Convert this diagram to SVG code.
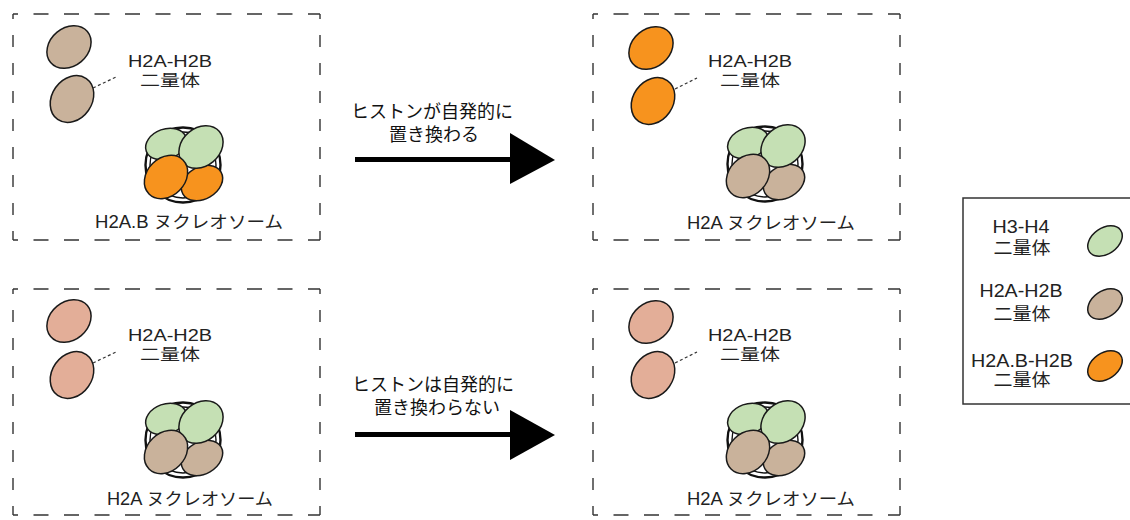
<svg xmlns="http://www.w3.org/2000/svg" xmlns:xlink="http://www.w3.org/1999/xlink" width="1130" height="520" viewBox="0 0 1130 520">
<style>
.bg{fill:#ffffff}
.hd{stroke:#333;stroke-width:1.4;fill:none;stroke-dasharray:15 15.5;stroke-dashoffset:10}
.vd{stroke:#333;stroke-width:1.4;fill:none;stroke-dasharray:12 16;stroke-dashoffset:7}
.e{stroke:#1a1a1a;stroke-width:1.5}
.green{fill:#C5E0B4}
.tan{fill:#C9B29B}
.orange{fill:#F7931E}
.salmon{fill:#E3AE98}
.dna{fill:#ffffff;stroke:#111;stroke-width:2.4}
.dna2{fill:none;stroke:#111;stroke-width:1.4}
.t{font-family:"Liberation Sans","Noto Sans CJK JP",sans-serif;fill:#222;text-anchor:middle}
.at{font-family:"Noto Sans CJK JP",sans-serif;fill:#111;text-anchor:middle;font-size:18px}
.lead{stroke:#333;stroke-width:1.2;stroke-dasharray:3 2.5;fill:none}
.shaft{stroke:#000;stroke-width:5;fill:none}
.head{fill:#000}
</style>
<defs>
<g id="frame">
<line class="hd" x1="13" y1="14" x2="320" y2="14"/>
<line class="hd" x1="13" y1="240" x2="320" y2="240"/>
<line class="vd" x1="13" y1="14" x2="13" y2="240"/>
<line class="vd" x1="320" y1="14" x2="320" y2="240"/>
</g>
</defs>
<rect class="bg" x="0" y="0" width="1130" height="520"/>

<g id="panel-tl">
<use xlink:href="#frame"/>
<g id="tl-dimers">
<ellipse class="e tan" cx="69" cy="47" rx="24" ry="19" transform="rotate(-40 69 47)"/>
<ellipse class="e tan" cx="72" cy="99" rx="25" ry="20" transform="rotate(-55 72 99)"/>
</g>
<text class="t" x="170" y="67" font-size="16" textLength="84" lengthAdjust="spacingAndGlyphs">H2A-H2B</text>
<text class="t" x="170" y="85.5" font-size="16" textLength="60" lengthAdjust="spacingAndGlyphs">二量体</text>
<g id="tl-nucleosome" transform="translate(183,165)">
<circle class="dna" r="37.5"/>
<circle class="dna2" r="33"/>
<ellipse class="e green" cx="-17" cy="-21" rx="21" ry="15" transform="rotate(-20 -17 -21)"/>
<ellipse class="e orange" cx="19" cy="18" rx="22" ry="16" transform="rotate(-30 19 18)"/>
<ellipse class="e green" cx="18" cy="-18" rx="24" ry="19" transform="rotate(-40 18 -18)"/>
<ellipse class="e orange" cx="-17" cy="12" rx="24" ry="19" transform="rotate(-45 -17 12)"/>
</g>
<text class="t" x="189" y="228" font-size="17.5" textLength="188" lengthAdjust="spacingAndGlyphs">H2A.B ヌクレオソーム</text>
</g>

<g id="panel-tr" transform="translate(580,0)">
<use xlink:href="#frame"/>
<g id="tr-dimers">
<ellipse class="e orange" cx="71" cy="48" rx="24" ry="19" transform="rotate(-40 71 48)"/>
<ellipse class="e orange" cx="73" cy="101" rx="25" ry="20" transform="rotate(-55 73 101)"/>
</g>
<text class="t" x="170" y="67" font-size="16" textLength="84" lengthAdjust="spacingAndGlyphs">H2A-H2B</text>
<text class="t" x="170" y="85.5" font-size="16" textLength="60" lengthAdjust="spacingAndGlyphs">二量体</text>
<g id="tr-nucleosome" transform="translate(185,164)">
<circle class="dna" r="37.5"/>
<circle class="dna2" r="33"/>
<ellipse class="e green" cx="-17" cy="-21" rx="21" ry="15" transform="rotate(-20 -17 -21)"/>
<ellipse class="e tan" cx="19" cy="18" rx="22" ry="16" transform="rotate(-30 19 18)"/>
<ellipse class="e green" cx="18" cy="-18" rx="24" ry="19" transform="rotate(-40 18 -18)"/>
<ellipse class="e tan" cx="-17" cy="12" rx="24" ry="19" transform="rotate(-45 -17 12)"/>
</g>
<text class="t" x="191" y="229" font-size="17.5" textLength="168" lengthAdjust="spacingAndGlyphs">H2A ヌクレオソーム</text>
</g>

<g id="panel-bl" transform="translate(0,275)">
<use xlink:href="#frame"/>
<g id="bl-dimers">
<ellipse class="e salmon" cx="69" cy="46" rx="24" ry="19" transform="rotate(-40 69 46)"/>
<ellipse class="e salmon" cx="72" cy="100" rx="25" ry="20" transform="rotate(-55 72 100)"/>
</g>
<text class="t" x="170" y="66" font-size="16" textLength="84" lengthAdjust="spacingAndGlyphs">H2A-H2B</text>
<text class="t" x="170" y="84.5" font-size="16" textLength="60" lengthAdjust="spacingAndGlyphs">二量体</text>
<g id="bl-nucleosome" transform="translate(183,165)">
<circle class="dna" r="37.5"/>
<circle class="dna2" r="33"/>
<ellipse class="e green" cx="-17" cy="-21" rx="21" ry="15" transform="rotate(-20 -17 -21)"/>
<ellipse class="e tan" cx="19" cy="18" rx="22" ry="16" transform="rotate(-30 19 18)"/>
<ellipse class="e green" cx="18" cy="-18" rx="24" ry="19" transform="rotate(-40 18 -18)"/>
<ellipse class="e tan" cx="-17" cy="12" rx="24" ry="19" transform="rotate(-45 -17 12)"/>
</g>
<text class="t" x="190" y="230" font-size="17.5" textLength="166" lengthAdjust="spacingAndGlyphs">H2A ヌクレオソーム</text>
</g>

<g id="panel-br" transform="translate(580,275)">
<use xlink:href="#frame"/>
<g id="br-dimers">
<ellipse class="e salmon" cx="71" cy="47" rx="24" ry="19" transform="rotate(-40 71 47)"/>
<ellipse class="e salmon" cx="73" cy="100" rx="25" ry="20" transform="rotate(-55 73 100)"/>
</g>
<text class="t" x="170" y="66" font-size="16" textLength="84" lengthAdjust="spacingAndGlyphs">H2A-H2B</text>
<text class="t" x="170" y="84.5" font-size="16" textLength="60" lengthAdjust="spacingAndGlyphs">二量体</text>
<g id="br-nucleosome" transform="translate(185,165)">
<circle class="dna" r="37.5"/>
<circle class="dna2" r="33"/>
<ellipse class="e green" cx="-17" cy="-21" rx="21" ry="15" transform="rotate(-20 -17 -21)"/>
<ellipse class="e tan" cx="19" cy="18" rx="22" ry="16" transform="rotate(-30 19 18)"/>
<ellipse class="e green" cx="18" cy="-18" rx="24" ry="19" transform="rotate(-40 18 -18)"/>
<ellipse class="e tan" cx="-17" cy="12" rx="24" ry="19" transform="rotate(-45 -17 12)"/>
</g>
<text class="t" x="191" y="230" font-size="17.5" textLength="168" lengthAdjust="spacingAndGlyphs">H2A ヌクレオソーム</text>
</g>

<g id="connectors">
<line class="lead" x1="93" y1="88" x2="116" y2="77"/>
<line class="lead" x1="675" y1="89" x2="697" y2="78"/>
<line class="lead" x1="93" y1="363" x2="116" y2="352"/>
<line class="lead" x1="675" y1="363" x2="697" y2="352"/>
<g id="arrow-top">
<line class="shaft" x1="355" y1="159.5" x2="514" y2="159.5"/>
<polygon class="head" points="510,133 555,160 510,184"/>
</g>
<g id="arrow-bottom">
<line class="shaft" x1="355" y1="434.5" x2="514" y2="434.5"/>
<polygon class="head" points="510,410 555,435 510,460"/>
</g>
</g>

<g id="arrow-labels">
<text class="at" x="432" y="117.5">ヒストンが自発的に</text>
<text class="at" x="434" y="141">置き換わる</text>
<text class="at" x="433" y="390.5">ヒストンは自発的に</text>
<text class="at" x="437" y="414">置き換わらない</text>
</g>

<g id="legend">
<rect x="963" y="198" width="180" height="206" fill="#fff" stroke="#333" stroke-width="1.5"/>
<text class="t" x="1021" y="233" font-size="17.5" textLength="57" lengthAdjust="spacingAndGlyphs">H3-H4</text>
<text class="t" x="1022" y="254" font-size="17.5" textLength="57" lengthAdjust="spacingAndGlyphs">二量体</text>
<ellipse class="e green" cx="1105" cy="241" rx="19" ry="13" transform="rotate(-35 1105 241)"/>
<text class="t" x="1021" y="297" font-size="17.5" textLength="83" lengthAdjust="spacingAndGlyphs">H2A-H2B</text>
<text class="t" x="1022" y="319.5" font-size="17.5" textLength="57" lengthAdjust="spacingAndGlyphs">二量体</text>
<ellipse class="e tan" cx="1105" cy="304" rx="19" ry="13" transform="rotate(-35 1105 304)"/>
<text class="t" x="1022" y="367" font-size="17.5" textLength="102" lengthAdjust="spacingAndGlyphs">H2A.B-H2B</text>
<text class="t" x="1022" y="385.5" font-size="17.5" textLength="57" lengthAdjust="spacingAndGlyphs">二量体</text>
<ellipse class="e orange" cx="1105" cy="366" rx="19" ry="13" transform="rotate(-35 1105 366)"/>
</g>
</svg>
